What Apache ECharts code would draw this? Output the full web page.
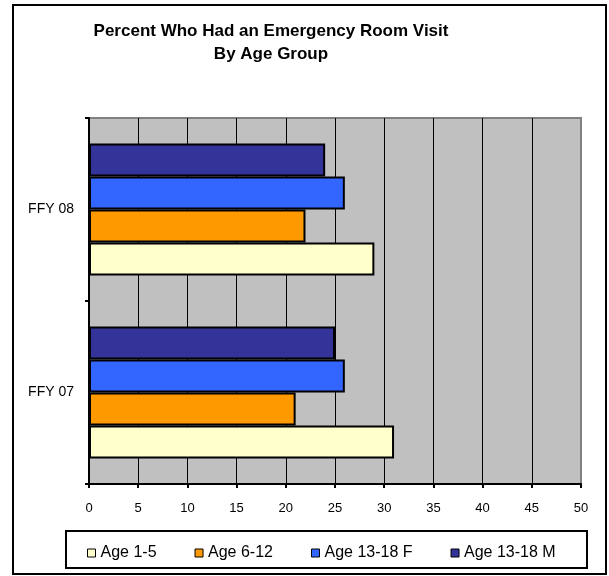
<!DOCTYPE html>
<html>
<head>
<meta charset="utf-8">
<script src="https://cdn.jsdelivr.net/npm/echarts@6/dist/echarts.min.js"></script>
<style>
  html, body { margin: 0; padding: 0; background: #fff; }
  #chart { width: 609px; height: 576px; }
</style>
</head>
<body>
<div id="chart"></div>
<script>
// Fiscal years shown on the category axis (bottom to top)
const years = ['FFY 07', 'FFY 08'];

// Percent with an emergency room visit, per age group, per year
const age1to5 = [31, 29];
const age6to12 = [21, 22];
const age13to18F = [26, 26];
const age13to18M = [25, 24];

const legendNames = ['Age 1-5', 'Age 6-12', 'Age 13-18 F', 'Age 13-18 M'];

// Series listed top bar first within each year group
const seriesDefs = [
  { name: 'Age 13-18 M', color: '#333399', data: age13to18M },
  { name: 'Age 13-18 F', color: '#3366FF', data: age13to18F },
  { name: 'Age 6-12', color: '#FF9900', data: age6to12 },
  { name: 'Age 1-5', color: '#FFFFCC', data: age1to5 }
];

const xTicks = { min: 0, max: 50, interval: 5 };

const font = 'Arial, "Liberation Sans", sans-serif';

const chart = echarts.init(document.getElementById('chart'), null, { renderer: 'canvas' });

chart.setOption({
  animation: false,
  backgroundColor: '#ffffff',
  title: {
    text: 'Percent Who Had an Emergency Room Visit\nBy Age Group',
    left: 266,
    textAlign: 'center',
    top: 15,
    textStyle: {
      fontFamily: font,
      fontSize: 17,
      fontWeight: 'bold',
      color: '#000',
      lineHeight: 23
    }
  },
  graphic: [
    {
      type: 'rect',
      shape: { x: 13, y: 5, width: 593, height: 569 },
      style: { fill: 'none', stroke: '#000', lineWidth: 2 },
      z: 100
    },
    {
      type: 'rect',
      shape: { x: 66, y: 531, width: 521, height: 37 },
      style: { fill: 'none', stroke: '#000', lineWidth: 2 },
      z: 100
    }
  ],
  legend: {
    data: legendNames,
    left: 82,
    top: 540,
    itemWidth: 8,
    itemHeight: 8,
    itemGap: 38,
    icon: 'rect',
    itemStyle: { borderColor: '#000', borderWidth: 1 },
    textStyle: { fontFamily: font, fontSize: 16, color: '#000' }
  },
  grid: {
    left: 89,
    top: 118,
    right: 28,
    bottom: 92,
    show: true,
    backgroundColor: '#C0C0C0',
    borderColor: '#808080',
    borderWidth: 2
  },
  xAxis: {
    type: 'value',
    min: xTicks.min,
    max: xTicks.max,
    interval: xTicks.interval,
    axisLine: { show: true, onZero: false, lineStyle: { color: '#000', width: 2 } },
    axisTick: { show: true, length: 4, lineStyle: { color: '#000', width: 2 } },
    axisLabel: { fontFamily: font, fontSize: 13, color: '#000', margin: 18 },
    splitLine: { show: true, showMinLine: false, showMaxLine: false, lineStyle: { color: '#000', width: 1 } }
  },
  yAxis: {
    type: 'category',
    data: years,
    axisLine: { show: true, lineStyle: { color: '#000', width: 2 } },
    axisTick: { show: true, length: 4, lineStyle: { color: '#000', width: 2 } },
    axisLabel: { fontFamily: font, fontSize: 14, color: '#000', margin: 15 }
  },
  series: seriesDefs.map(s => ({
    name: s.name,
    type: 'bar',
    data: s.data,
    barGap: '0%',
    barCategoryGap: '28%',
    itemStyle: { color: s.color, borderColor: '#000', borderWidth: 2 }
  }))
});
</script>
</body>
</html>
